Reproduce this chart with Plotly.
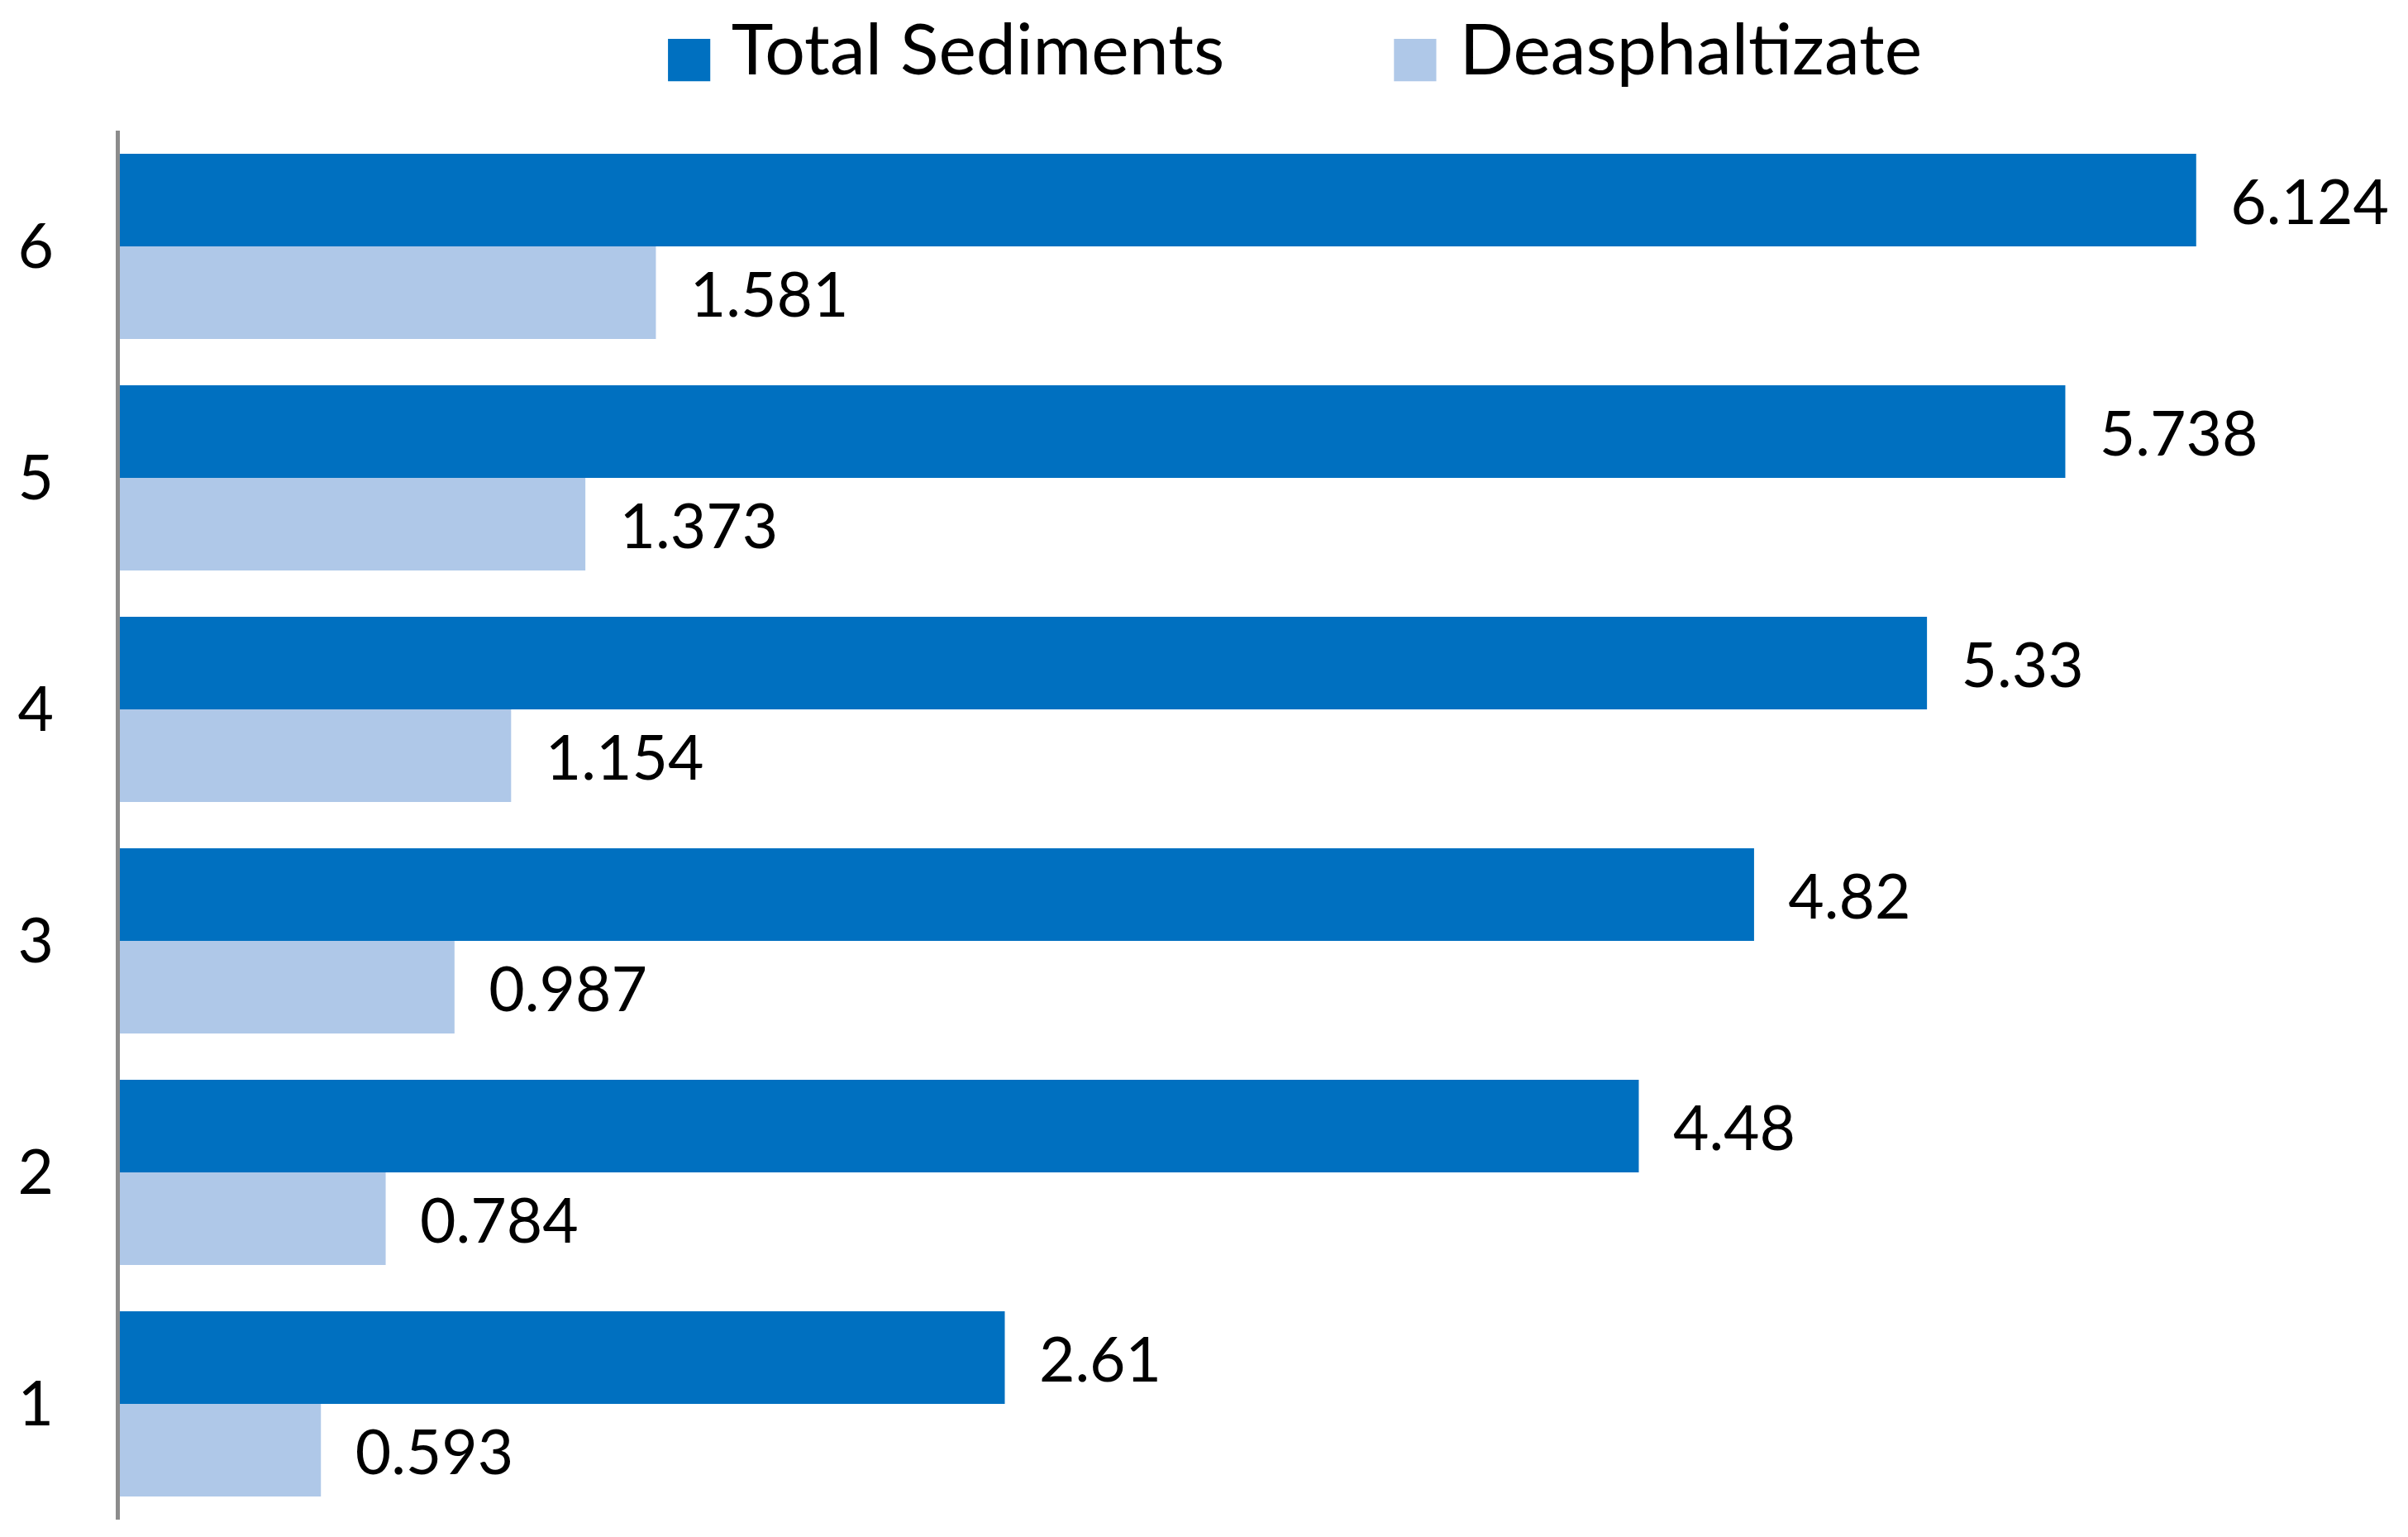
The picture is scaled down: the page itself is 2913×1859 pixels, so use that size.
import plotly.graph_objects as go

categories = ["1", "2", "3", "4", "5", "6"]
total_sediments = [2.61, 4.48, 4.82, 5.33, 5.738, 6.124]
deasphaltizate = [0.593, 0.784, 0.987, 1.154, 1.373, 1.581]
series_names = ["Total Sediments", "Deasphaltizate"]

DARK = "#0070C0"
LIGHT = "#AFC8E8"
FONT = "Lato"
PAD = "\u00a0\u00a0"
LABEL_SIZE = 75

# page has an 8px body margin, so the figure is 16px smaller than the window
W, H = 2897, 1843
T, B = 150, 13
PLOT_H = H - T - B

fig = go.Figure()
fig.add_trace(go.Bar(
    y=categories, x=deasphaltizate, orientation="h", name=series_names[1],
    marker=dict(color=LIGHT, line=dict(width=0)), showlegend=False,
    text=[PAD + f"{v:g}" for v in deasphaltizate], textposition="outside",
    textfont=dict(family=FONT, size=LABEL_SIZE, color="black"),
    constraintext="none", cliponaxis=False,
))
fig.add_trace(go.Bar(
    y=categories, x=total_sediments, orientation="h", name=series_names[0],
    marker=dict(color=DARK, line=dict(width=0)), showlegend=False,
    text=[PAD + f"{v:g}" for v in total_sediments], textposition="outside",
    textfont=dict(family=FONT, size=LABEL_SIZE, color="black"),
    constraintext="none", cliponaxis=False,
))

# legend entries with large square swatches (glyph), symbol hidden
def swatch_name(color, label, trail=""):
    return (f'<span style="font-family:DejaVu Sans;font-size:67px;color:{color}">\u25A0</span>'
            f'\u00a0{label}{trail}')

HIDDEN = dict(opacity=0, color="rgba(0,0,0,0)", size=1, line=dict(width=0))
fig.add_trace(go.Scatter(
    x=[None], y=[None], mode="markers", marker=HIDDEN,
    name=swatch_name(DARK, series_names[0], "\u00a0" * 7), hoverinfo="skip",
))
fig.add_trace(go.Scatter(
    x=[None], y=[None], mode="markers", marker=HIDDEN,
    name=swatch_name(LIGHT, series_names[1]), hoverinfo="skip",
))

fig.update_layout(
    width=W, height=H,
    margin=dict(l=137, r=53, t=T, b=B, autoexpand=False),
    paper_bgcolor="white", plot_bgcolor="white",
    barmode="group", bargap=0.2, bargroupgap=0,
    font=dict(family=FONT, size=LABEL_SIZE, color="black"),
    showlegend=True,
    legend=dict(
        orientation="h",
        xref="container", yref="paper",
        x=0.2603, xanchor="left", y=1 + (T + 14) / PLOT_H, yanchor="top",
        font=dict(family=FONT, size=86, color="black"),
        itemwidth=30, bgcolor="rgba(0,0,0,0)",
    ),
    xaxis=dict(range=[0, 6.6], visible=False, showgrid=False, zeroline=False),
    yaxis=dict(
        type="category", categoryorder="array", categoryarray=categories,
        range=[-0.5, 5.5], automargin=False,
        showline=True, linecolor="#8c8c8c", linewidth=5,
        showgrid=False, zeroline=False, ticks="",
        ticklabelstandoff=60,
        tickfont=dict(family=FONT, size=LABEL_SIZE, color="black"),
    ),
)

fig.write_html("out.html")
